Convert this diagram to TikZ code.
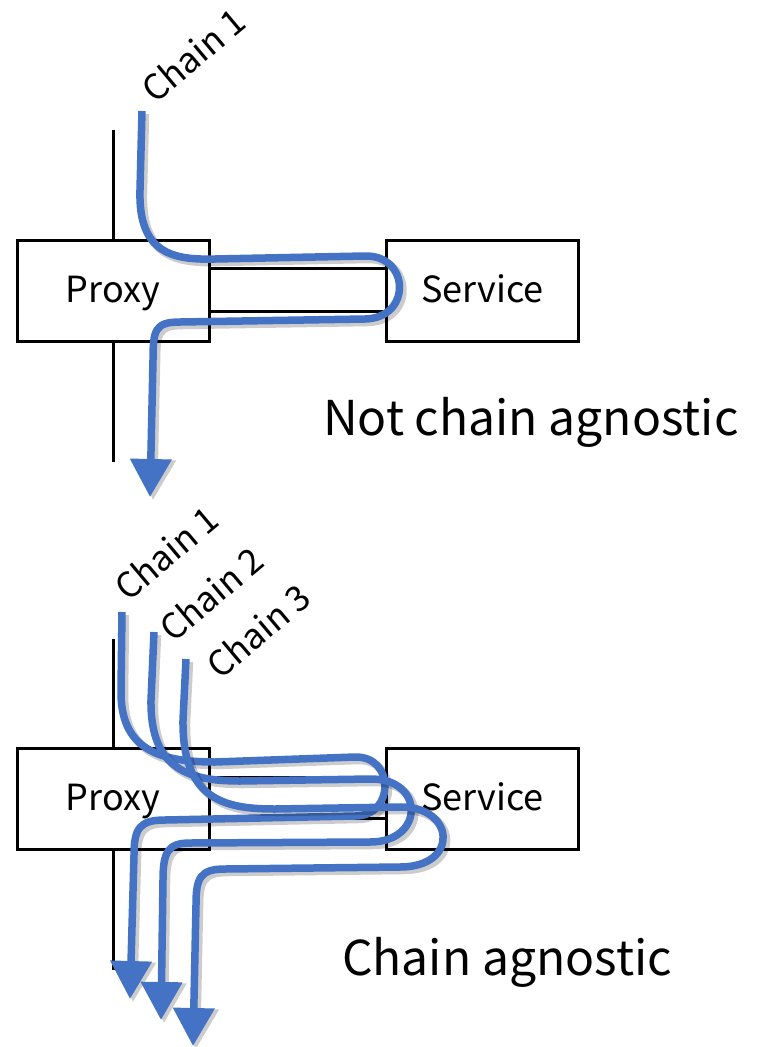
\documentclass[tikz,border=0pt]{standalone}
\usepackage{fontspec}
\setmainfont{Noto Sans CJK JP}
\usetikzlibrary{arrows.meta}
\definecolor{chainblue}{HTML}{4472C4}
\tikzset{
  box/.style={draw, line width=3pt, fill=white, minimum width=192pt, minimum height=101pt, inner sep=0pt},
  boxtext/.style={anchor=base, inner sep=0pt, font=\fontsize{36}{42}\selectfont},
  bar/.style={line width=3pt},
  chainline/.style={line width=7.5pt, draw=chainblue, -{Triangle[width=40pt,length=38pt,fill=chainblue]}},
  chainshade/.style={line width=8.5pt, draw=black, opacity=0.2, -{Triangle[width=42pt,length=40pt,fill=black]}, transform canvas={xshift=3pt,yshift=-3pt}},
  lab/.style={rotate=40, font=\fontsize{35}{40}\selectfont, inner sep=0pt},
  big/.style={font=\fontsize{48}{56}\selectfont, inner sep=0pt}
}
\newcommand\drawchain[1]{\draw[chainshade] #1; \draw[chainline] #1;}
\begin{document}
\begin{tikzpicture}[x=1pt,y=-1pt]
\useasboundingbox (0,0) rectangle (759,1047);
% ---------- top ----------
\node[box] (proxy1) at (113,290.5) {};
\node[box] (service1) at (482.5,290.5) {};
\node[boxtext] (proxy1t) at ([yshift=-11.5pt]proxy1.center) {Proxy};
\node[boxtext] (service1t) at ([yshift=-11.5pt]service1.center) {Service};
\draw[bar] (proxy1.north) -- ++(0,-109) coordinate (v1t);
\draw[bar] (proxy1.south) -- ++(0,119) coordinate (v1b);
\draw[bar] ([yshift=22.5pt]proxy1.east) -- ([yshift=22.5pt]service1.west);
\draw[bar] ([yshift=-20.5pt]proxy1.east) -- ([yshift=-20.5pt]service1.west);
\node[big, anchor=base west] (nca) at (323,435) {Not chain agnostic};
\node[lab] (c1t) at (193,55) {Chain 1};
\coordinate (t0) at (142,111);
\coordinate (t1) at (150,497);
\drawchain{(t0) -- (140,190) .. controls (138,255) and (175,260) .. (215,259) -- (365,256) .. controls (410,255) and (412,318) .. (365,319) -- (180,322) .. controls (155,322) and (153,330) .. (153,360) -- (t1)}
% ---------- bottom ----------
\node[box] (proxy2) at (113,798.5) {};
\node[box] (service2) at (482.5,798.5) {};
\node[boxtext] (proxy2t) at ([yshift=-11.5pt]proxy2.center) {Proxy};
\node[boxtext] (service2t) at ([yshift=-11.5pt]service2.center) {Service};
\draw[bar] (proxy2.north) -- ++(0,-108) coordinate (v2t);
\draw[bar] (proxy2.south) -- ++(0,119) coordinate (v2b);
\draw[bar] ([yshift=21.5pt]proxy2.east) -- ([yshift=21.5pt]service2.west);
\draw[bar] ([yshift=-19.5pt]proxy2.east) -- ([yshift=-19.5pt]service2.west);
\node[big, anchor=base west] (ca) at (342,975) {Chain agnostic};
\node[lab] (c1b) at (166,553) {Chain 1};
\node[lab] (c2b) at (211,594) {Chain 2};
\node[lab] (c3b) at (258,631) {Chain 3};
\coordinate (a0) at (122,612);
\coordinate (a1) at (130,999);
\coordinate (b0) at (154,632);
\coordinate (b1) at (161,1020);
\coordinate (c0) at (186,659);
\coordinate (c1) at (193,1046);
\drawchain{(a0) -- (121,690) .. controls (120,750) and (160,762) .. (215,762) -- (355,757) .. controls (395,756) and (395,816) .. (355,816) -- (165,820) .. controls (140,820) and (134,828) .. (134,855) -- (a1)}
\drawchain{(b0) -- (151,700) .. controls (150,770) and (190,781) .. (240,781) -- (370,779) .. controls (425,778) and (425,842) .. (370,842) -- (190,843) .. controls (168,843) and (163,852) .. (163,880) -- (b1)}
\drawchain{(c0) -- (183,720) .. controls (182,800) and (225,809) .. (275,809) -- (400,807) .. controls (455,806) and (460,867) .. (400,867) -- (225,869) .. controls (200,869) and (196,878) .. (196,905) -- (c1)}
\end{tikzpicture}
\end{document}
